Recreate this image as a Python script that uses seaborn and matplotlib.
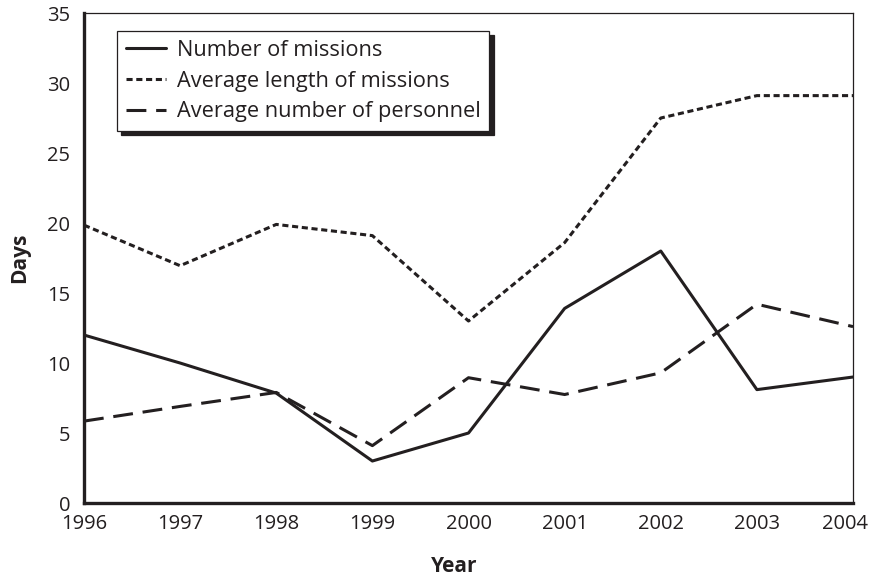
import pandas as pd
import matplotlib
matplotlib.use("Agg")
import matplotlib.pyplot as plt
import matplotlib.transforms as mtransforms
import seaborn as sns

years = [1996, 1997, 1998, 1999, 2000, 2001, 2002, 2003, 2004]
num_missions = [12.0, 10.0, 7.85, 3.0, 5.0, 13.9, 18.0, 8.1, 9.0]
avg_length = [19.85, 16.95, 19.9, 19.1, 13.0, 18.6, 27.5, 29.1, 29.1]
avg_personnel = [5.85, 6.9, 7.9, 4.1, 8.95, 7.75, 9.3, 14.2, 12.6]
series_names = ["Number of missions", "Average length of missions", "Average number of personnel"]

df = pd.DataFrame({
    "Year": years * 3,
    "Days": num_missions + avg_length + avg_personnel,
    "Series": [series_names[0]] * 9 + [series_names[1]] * 9 + [series_names[2]] * 9,
})

sns.set_style("white")
plt.rcParams["font.family"] = ["Open Sans", "DejaVu Sans"]

fig = plt.figure(figsize=(8.74, 5.76), dpi=100)
ax = fig.add_axes([0.0961, 0.1267, 0.8799, 0.8507])

dashes = {
    series_names[0]: "",
    series_names[1]: (2.0, 1.2),
    series_names[2]: (6.5, 3.2),
}
sns.lineplot(data=df, x="Year", y="Days", style="Series", dashes=dashes,
             color="#231f20", linewidth=2.2, ax=ax, legend=True)

ax.set_xlim(1996, 2004)
ax.set_ylim(0, 35)
ax.set_xticks(years)
ax.set_xticklabels([str(y) for y in years])
ax.set_yticks(range(0, 36, 5))

ax.tick_params(axis="x", direction="in", length=16, width=0.8, color="#231f20",
               pad=8, labelsize=14.5, labelcolor="#231f20")
ax.tick_params(axis="y", direction="in", length=14, width=0.8, color="#231f20",
               pad=10, labelsize=14.5, labelcolor="#231f20")

# last year label sits a bit inside the figure edge, as in the original
last = ax.get_xticklabels()[-1]
last.set_transform(last.get_transform() +
                   mtransforms.ScaledTranslation(-8 / 100, 0, fig.dpi_scale_trans))

for side in ["left", "bottom"]:
    ax.spines[side].set_linewidth(2.4)
    ax.spines[side].set_color("#231f20")
for side in ["top", "right"]:
    ax.spines[side].set_linewidth(0.9)
    ax.spines[side].set_color("#231f20")

ax.set_xlabel("Year", fontsize=15, fontweight="bold", color="#231f20")
ax.xaxis.set_label_coords(0.482, -0.108)
ax.xaxis.label.set_va("top")
ax.set_ylabel("Days", fontsize=15, fontweight="bold", color="#231f20", labelpad=12)

leg = ax.legend(loc="upper left", bbox_to_anchor=(0.043, 0.963), borderaxespad=0,
                fontsize=15.7, frameon=True, fancybox=False, handlelength=1.85,
                handletextpad=0.5, labelspacing=0.45, borderpad=0.4,
                shadow={"ox": 3, "oy": -3, "color": "#231f20", "alpha": 1})
leg.get_frame().set_edgecolor("#231f20")
leg.get_frame().set_linewidth(0.9)
leg.get_frame().set_alpha(1)
for t in leg.get_texts():
    t.set_color("#231f20")

fig.savefig("out.png", dpi=100)
